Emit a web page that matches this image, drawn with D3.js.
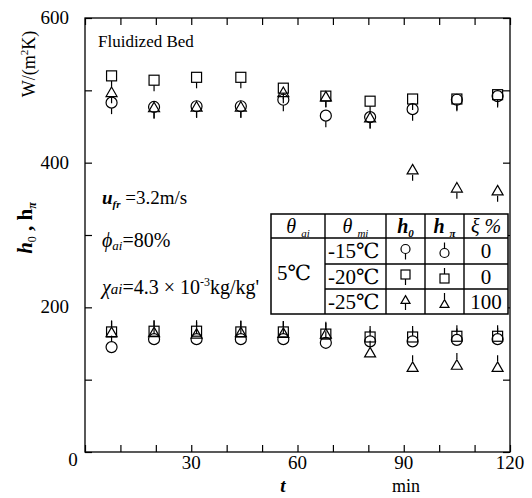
<!DOCTYPE html>
<html lang="en">
<head>
<meta charset="UTF-8">
<title>h0 hpi fluidized bed</title>
<script src="https://cdn.jsdelivr.net/npm/d3@7"></script>
<style>
  body { margin: 0; background: #fff; }
</style>
</head>
<body>
<script>
// time points (min)
const times = [7.5, 19.5, 31.5, 44, 56, 68, 80.5, 92.5, 105, 116.5];
// h0 values, W/(m2K)
const h0Circle = [483, 477, 478, 478, 487, 465, 463, 474, 487, 492];
const h0Square = [520, 514, 518, 518, 503, 492, 485, 488, 488, 494];
const h0Triangle = [498, 477, 478, 478, 498, 492, 463, 391, 366, 362];
// h_pi values
const hpCircle = [145, 156, 156, 156, 156, 151, 153, 153, 155, 156];
const hpSquare = [166, 167, 167, 166, 166, 163, 159, 159, 160, 160];
const hpTriangle = [166, 166, 164, 166, 165, 164, 138, 118, 121, 118];

const xTicks = d3.range(0, 121, 10);
const xLabels = [30, 60, 90, 120];
const yTicks = d3.range(0, 601, 100);
const yLabels = [200, 400, 600];

const tableRows = [
  { tmi: "-15℃", shape: "circle", xi: "0" },
  { tmi: "-20℃", shape: "square", xi: "0" },
  { tmi: "-25℃", shape: "triangle", xi: "100" }
];

const font = "'Liberation Serif', 'Times New Roman', Times, 'DejaVu Serif', serif";
const width = 532, height = 498;
const x = d3.scaleLinear([0, 120], [85, 510]);
const y = d3.scaleLinear([0, 600], [452, 18]);

const svg = d3.select("body").append("svg")
    .attr("width", width)
    .attr("height", height)
    .attr("font-family", font);

// frame
svg.append("rect")
    .attr("x", x(0)).attr("y", y(600))
    .attr("width", x(120) - x(0)).attr("height", y(0) - y(600))
    .attr("fill", "none").attr("stroke", "#000").attr("stroke-width", 1.3);

const tk = 7; // inward tick length
const noDomain = g => g.select(".domain").remove();
svg.append("g").attr("transform", `translate(0,${y(0)})`)
    .call(d3.axisBottom(x).tickValues(xTicks).tickSize(-tk).tickFormat("")).call(noDomain);
svg.append("g").attr("transform", `translate(0,${y(600)})`)
    .call(d3.axisTop(x).tickValues(xTicks).tickSize(-tk).tickFormat("")).call(noDomain);
svg.append("g").attr("transform", `translate(${x(0)},0)`)
    .call(d3.axisLeft(y).tickValues(yTicks).tickSize(-tk).tickFormat("")).call(noDomain);
svg.append("g").attr("transform", `translate(${x(120)},0)`)
    .call(d3.axisRight(y).tickValues(yTicks).tickSize(-tk).tickFormat("")).call(noDomain);
svg.selectAll(".tick line").attr("stroke-width", 1.2);

// tick labels
svg.append("g").selectAll("text").data(xLabels).join("text")
    .attr("x", d => x(d)).attr("y", y(0) + 17)
    .attr("text-anchor", "middle").attr("font-size", 19)
    .text(d => d);
svg.append("g").selectAll("text").data(yLabels).join("text")
    .attr("x", x(0) - 16).attr("y", d => y(d) + 6)
    .attr("text-anchor", "end").attr("font-size", 19)
    .text(d => d);
svg.append("text").attr("x", x(0) - 12).attr("y", y(0) + 14)
    .attr("text-anchor", "middle").attr("font-size", 19).text("0");

// axis titles
const yt1 = svg.append("text").attr("transform", "translate(35,64) rotate(-90)")
    .attr("text-anchor", "middle").attr("font-size", 18);
yt1.append("tspan").text("W/(m");
yt1.append("tspan").attr("font-size", 11).attr("dy", -7).text("2");
yt1.append("tspan").attr("dy", 7).text("K)");

const yt2 = svg.append("text").attr("transform", "translate(32,228) rotate(-90)")
    .attr("text-anchor", "middle").attr("font-size", 21)
    .attr("font-style", "italic").attr("font-weight", "bold");
yt2.append("tspan").text("h");
yt2.append("tspan").attr("font-size", 12).attr("dy", 4).attr("font-style", "normal").attr("font-weight", "normal").text("0");
yt2.append("tspan").attr("dy", -4).attr("font-style", "normal").text(" ,  h");
yt2.append("tspan").attr("font-size", 12).attr("dy", 4).text("π");

svg.append("text").attr("x", 283).attr("y", 492).attr("text-anchor", "middle")
    .attr("font-size", 19).attr("font-style", "italic").attr("font-weight", "bold").text("t");
svg.append("text").attr("x", 406).attr("y", 492).attr("text-anchor", "middle")
    .attr("font-size", 18).text("min");

svg.append("text").attr("x", 98).attr("y", 47).attr("font-size", 17).text("Fluidized Bed");

// condition notes
const n1 = svg.append("text").attr("x", 102).attr("y", 204).attr("font-size", 19);
n1.append("tspan").attr("font-style", "italic").attr("font-weight", "bold").text("u");
n1.append("tspan").attr("font-size", 11).attr("dy", 4).attr("font-style", "italic").attr("font-weight", "bold").text("fr");
n1.append("tspan").attr("dy", -4).text(" =3.2m/s");

const n2 = svg.append("text").attr("x", 102).attr("y", 247).attr("font-size", 20);
n2.append("tspan").attr("font-style", "italic").text("ϕ");
n2.append("tspan").attr("font-size", 13).attr("dy", 3).attr("font-style", "italic").text("ai");
n2.append("tspan").attr("dy", -3).text("=80%");

const n3 = svg.append("text").attr("x", 102).attr("y", 294).attr("font-size", 20);
n3.append("tspan").attr("font-style", "italic").text("χ");
n3.append("tspan").attr("font-size", 15).attr("font-style", "italic").text("ai");
n3.append("tspan").text("=4.3 × 10");
n3.append("tspan").attr("font-size", 12).attr("dy", -8).text("-3");
n3.append("tspan").attr("dy", 8).text("kg/kg'");

// marker drawing: dir = +1 tail goes down (h0), -1 tail goes up (h_pi)
function marker(g, shape, cx, cy, s, dir) {
  if (shape === "circle") {
    g.append("circle").attr("cx", cx).attr("cy", cy).attr("r", s / 2);
  } else if (shape === "square") {
    g.append("rect").attr("x", cx - s / 2).attr("y", cy - s / 2).attr("width", s).attr("height", s);
  } else {
    const h = s * 0.87;
    g.append("path").attr("d", `M${cx},${cy - h / 2}L${cx + s / 2},${cy + h / 2}L${cx - s / 2},${cy + h / 2}Z`);
  }
  g.append("line").attr("x1", cx).attr("x2", cx)
      .attr("y1", cy + dir * s / 2).attr("y2", cy + dir * (s / 2 + 6));
  g.selectAll("*").attr("fill", "none").attr("stroke", "#000").attr("stroke-width", 1.2);
}

const series = [
  { vals: h0Circle, shape: "circle", dir: 1 },
  { vals: h0Square, shape: "square", dir: 1 },
  { vals: h0Triangle, shape: "triangle", dir: 1 },
  { vals: hpCircle, shape: "circle", dir: -1 },
  { vals: hpSquare, shape: "square", dir: -1 },
  { vals: hpTriangle, shape: "triangle", dir: -1 }
];
const pts = svg.append("g");
series.forEach(s => {
  s.vals.forEach((v, i) => {
    marker(pts.append("g"), s.shape, x(times[i]), y(v), s.shape === "square" ? 10 : 11, s.dir);
  });
});

// legend table
const colX = [271, 325, 386, 425, 464, 508];
const rowY = [214, 238, 264, 289, 314];
const tg = svg.append("g");
tg.append("rect").attr("x", colX[0]).attr("y", rowY[0])
    .attr("width", colX[5] - colX[0]).attr("height", rowY[4] - rowY[0])
    .attr("fill", "#fff").attr("stroke", "#000").attr("stroke-width", 1.5);
colX.slice(1, 5).forEach(cx => tg.append("line").attr("x1", cx).attr("x2", cx)
    .attr("y1", rowY[0]).attr("y2", rowY[4]).attr("stroke", "#000").attr("stroke-width", 1.4));
tg.append("line").attr("x1", colX[0]).attr("x2", colX[5]).attr("y1", rowY[1]).attr("y2", rowY[1])
    .attr("stroke", "#000").attr("stroke-width", 1.4);
[rowY[2], rowY[3]].forEach(ry => tg.append("line").attr("x1", colX[1]).attr("x2", colX[5])
    .attr("y1", ry).attr("y2", ry).attr("stroke", "#000").attr("stroke-width", 1.4));

const mid = i => (colX[i] + colX[i + 1]) / 2;
function header(i, main, sub, bold) {
  const t = tg.append("text").attr("x", mid(i)).attr("y", rowY[1] - 5)
      .attr("text-anchor", "middle").attr("font-size", 20).attr("font-style", "italic");
  if (bold) t.attr("font-weight", "bold");
  t.append("tspan").text(main);
  if (sub) t.append("tspan").attr("font-size", 11).attr("dy", 4).text(sub);
}
header(0, "θ ", "ai");
header(1, "θ ", "mi");
header(2, "h", "0", true);
header(3, "h ", "π", true);
header(4, "ξ %", null);

tg.append("text").attr("x", mid(0) - 4).attr("y", (rowY[1] + rowY[4]) / 2 + 4)
    .attr("text-anchor", "middle").attr("font-size", 21).text("5℃");
tableRows.forEach((r, i) => {
  const cy = (rowY[i + 1] + rowY[i + 2]) / 2;
  tg.append("text").attr("x", colX[1] + 3).attr("y", cy + 7).attr("font-size", 21).text(r.tmi);
  tg.append("text").attr("x", mid(4)).attr("y", cy + 7).attr("text-anchor", "middle")
      .attr("font-size", 21).text(r.xi);
  marker(tg.append("g"), r.shape, mid(2), cy - 2, 9, 1);
  marker(tg.append("g"), r.shape, mid(3), cy + 2, 9, -1);
});
</script>
</body>
</html>
